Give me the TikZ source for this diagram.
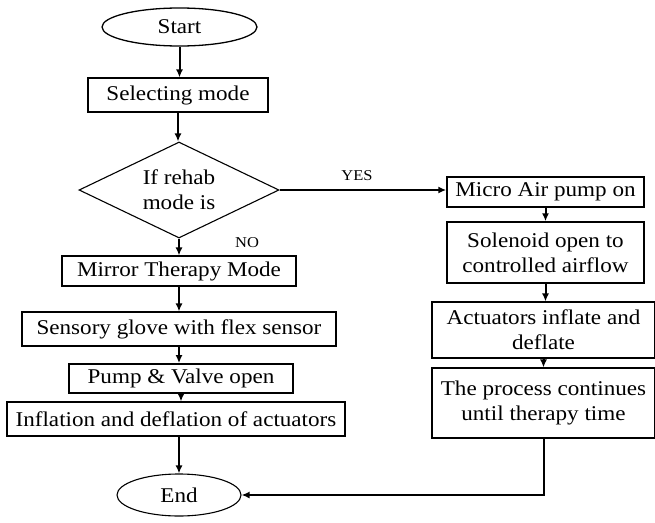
\documentclass[tikz,border=0pt]{standalone}
\usepackage{fontspec}
\setmainfont{Liberation Serif}[FakeStretch=1.1]
\usetikzlibrary{shapes.geometric,arrows.meta}
\begin{document}
\begin{tikzpicture}[x=1pt,y=-1pt,
  every node/.style={font=\fontsize{21}{25}\selectfont},
  box/.style={draw,line width=1.1pt,rectangle,inner sep=0pt,align=center},
  term/.style={draw,line width=1.1pt,ellipse,inner sep=0pt},
  flow/.style={line width=2pt,-{Latex[length=8pt,width=7pt]}},
  lbl/.style={font=\fontsize{15}{18}\selectfont,inner sep=0pt}]
\useasboundingbox (0,0) rectangle (655,522);
\node[term,line width=1.3pt,minimum width=155,minimum height=38] (start) at (179.5,27) {Start};
\node[box,minimum width=180,minimum height=34] (sel) at (178,95) {Selecting mode};
\node[draw,line width=1.1pt,diamond,inner sep=0pt,minimum width=200,minimum height=96] (dia) at (179,190) {};
\node[align=center,inner sep=0pt] (diatext) at (179,190) {If rehab\\mode is};
\node[box,minimum width=234,minimum height=30] (mir) at (179,271) {Mirror Therapy Mode};
\node[box,minimum width=314,minimum height=34] (sen) at (179,329) {Sensory glove with flex sensor};
\node[box,line width=1.7pt,minimum width=224,minimum height=29] (pump) at (181,378.5) {Pump \& Valve open};
\node[box,minimum width=338,minimum height=34] (inf) at (176,419) {Inflation and deflation of actuators};
\node[term,minimum width=124,minimum height=42] (end) at (179,495) {End};
\node[box,line width=1.5pt,minimum width=197,minimum height=30] (micro) at (545.5,192) {Micro Air pump on};
\node[box,line width=1.5pt,minimum width=197,minimum height=61] (sol) at (545.5,252.5) {Solenoid open to\\controlled airflow};
\node[box,minimum width=223,minimum height=56] (act) at (543.5,330) {Actuators inflate and\\deflate};
\node[box,minimum width=223,minimum height=70] (proc) at (543.5,403) {The process continues\\until therapy time};
\node[lbl] (yes) at (357,176) {YES};
\node[lbl] (no) at (247,243) {NO};
\draw[flow] (start.south) -- (start.south |- sel.north);
\draw[flow] (sel.south) -- (sel.south |- dia.north);
\draw[flow] (dia.south) -- (dia.south |- mir.north);
\draw[flow] (mir.south) -- (mir.south |- sen.north);
\draw[flow] (sen.south) -- (sen.south |- pump.north);
\draw[flow] (pump.south) -- (pump.south |- inf.north);
\draw[flow] (inf.south -| end.north) -- (end.north);
\draw[flow] (dia.east) -- (dia.east -| micro.west);
\draw[flow] (micro.south) -- (micro.south |- sol.north);
\draw[flow] (sol.south) -- (sol.south |- act.north);
\draw[flow] (act.south) -- (act.south |- proc.north);
\draw[flow] (proc.south) |- (end.east);
\end{tikzpicture}
\end{document}
